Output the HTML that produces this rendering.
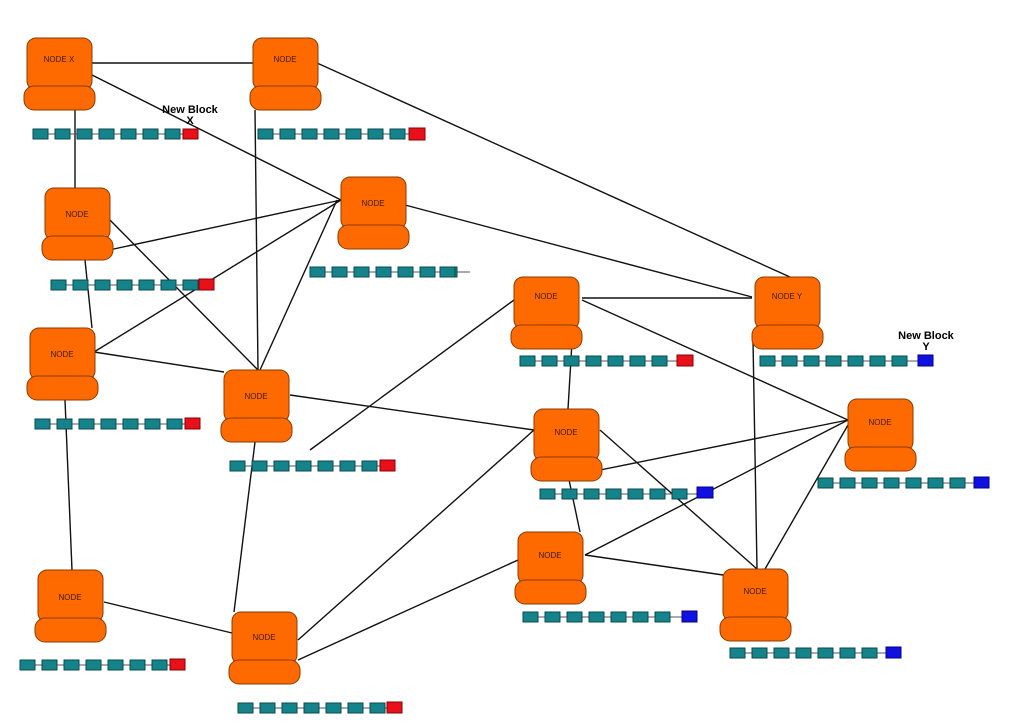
<!DOCTYPE html>
<html><head><meta charset="utf-8"><style>
body{margin:0;background:#fff}
svg{display:block}
text{font-family:"Liberation Sans",sans-serif}
</style></head><body>
<svg width="1024" height="724" viewBox="0 0 1024 724" xmlns="http://www.w3.org/2000/svg">
<defs>
<g id="nd">
<rect x="0" y="0" width="65" height="52" rx="9" fill="#ff6a00" stroke="#8a3a00" stroke-width="1"/>
<rect x="-3" y="48" width="71" height="24" rx="10" fill="#ff6a00" stroke="#8a3a00" stroke-width="1"/>
</g>
<g id="ch">
<line x1="0" y1="5" x2="160" y2="5" stroke="#555" stroke-width="1"/>
<rect x="0" y="0" width="15" height="10" fill="#15838a" stroke="#0a4a50"/>
<rect x="22" y="0" width="15" height="10" fill="#15838a" stroke="#0a4a50"/>
<rect x="44" y="0" width="15" height="10" fill="#15838a" stroke="#0a4a50"/>
<rect x="66" y="0" width="15" height="10" fill="#15838a" stroke="#0a4a50"/>
<rect x="88" y="0" width="15" height="10" fill="#15838a" stroke="#0a4a50"/>
<rect x="110" y="0" width="15" height="10" fill="#15838a" stroke="#0a4a50"/>
<rect x="132" y="0" width="15" height="10" fill="#15838a" stroke="#0a4a50"/>
</g>
</defs>
<g stroke="#111" stroke-width="1.4" fill="none">
<line x1="92" y1="63" x2="253" y2="63"/>
<line x1="92" y1="75" x2="341" y2="200"/>
<line x1="75" y1="110" x2="75" y2="188"/>
<line x1="317" y1="63" x2="790" y2="277"/>
<line x1="255" y1="110" x2="258" y2="370"/>
<line x1="109" y1="250" x2="341" y2="200"/>
<line x1="94" y1="352" x2="341" y2="200"/>
<line x1="260" y1="370" x2="337" y2="200"/>
<line x1="405" y1="205" x2="752" y2="297"/>
<line x1="105" y1="215" x2="258" y2="370"/>
<line x1="85" y1="260" x2="92" y2="328"/>
<line x1="94" y1="352" x2="224" y2="372"/>
<line x1="65" y1="400" x2="72" y2="570"/>
<line x1="290" y1="395" x2="534" y2="430"/>
<line x1="255" y1="442" x2="234" y2="612"/>
<line x1="310" y1="450" x2="514" y2="300"/>
<line x1="582" y1="298" x2="752" y2="298"/>
<line x1="582" y1="300" x2="848" y2="420"/>
<line x1="572" y1="342" x2="568" y2="409"/>
<line x1="600" y1="430" x2="757" y2="569"/>
<line x1="600" y1="470" x2="848" y2="420"/>
<line x1="568" y1="475" x2="580" y2="532"/>
<line x1="534" y1="430" x2="298" y2="640"/>
<line x1="518" y1="560" x2="298" y2="660"/>
<line x1="585" y1="555" x2="848" y2="420"/>
<line x1="585" y1="555" x2="723" y2="575"/>
<line x1="753" y1="340" x2="757" y2="569"/>
<line x1="848" y1="425" x2="765" y2="569"/>
<line x1="104" y1="602" x2="232" y2="633"/>
</g>
<g>
<use href="#nd" x="27" y="38"/><use href="#nd" x="253" y="38"/><use href="#nd" x="341" y="177"/>
<use href="#nd" x="45" y="188"/><use href="#nd" x="30" y="328"/><use href="#nd" x="224" y="370"/>
<use href="#nd" x="514" y="277"/><use href="#nd" x="755" y="277"/><use href="#nd" x="848" y="399"/>
<use href="#nd" x="534" y="409"/><use href="#nd" x="518" y="532"/><use href="#nd" x="723" y="569"/>
<use href="#nd" x="38" y="570"/><use href="#nd" x="232" y="612"/>
</g>
<g font-size="8" fill="#3a1a00" text-anchor="middle">
<text x="59" y="62">NODE X</text><text x="285" y="62">NODE</text><text x="373" y="206">NODE</text>
<text x="77" y="217">NODE</text><text x="62" y="357">NODE</text><text x="256" y="399">NODE</text>
<text x="546" y="299">NODE</text><text x="787" y="299">NODE Y</text><text x="880" y="425">NODE</text>
<text x="566" y="435">NODE</text><text x="550" y="558">NODE</text><text x="755" y="594">NODE</text>
<text x="70" y="600">NODE</text><text x="264" y="640">NODE</text>
</g>
<g>
<use href="#ch" x="33" y="129"/><rect x="183" y="129" width="15" height="10" fill="#e8101a" stroke="#800"/>
<use href="#ch" x="258" y="129"/><rect x="409" y="128" width="16" height="12" fill="#e8101a" stroke="#800"/>
<use href="#ch" x="310" y="267"/><rect x="440" y="267" width="15" height="10" fill="#15838a" stroke="#0a4a50"/>
<use href="#ch" x="51" y="280"/><rect x="199" y="279" width="15" height="11" fill="#e8101a" stroke="#800"/>
<use href="#ch" x="35" y="419"/><rect x="185" y="418" width="15" height="11" fill="#e8101a" stroke="#800"/>
<use href="#ch" x="230" y="461"/><rect x="380" y="460" width="15" height="11" fill="#e8101a" stroke="#800"/>
<use href="#ch" x="520" y="356"/><rect x="677" y="355" width="16" height="11" fill="#e8101a" stroke="#800"/>
<use href="#ch" x="760" y="356"/><rect x="918" y="355" width="15" height="11" fill="#1010e0" stroke="#008"/>
<use href="#ch" x="818" y="478"/><rect x="974" y="477" width="15" height="11" fill="#1010e0" stroke="#008"/>
<use href="#ch" x="540" y="489"/><rect x="697" y="487" width="16" height="11" fill="#1010e0" stroke="#008"/>
<use href="#ch" x="523" y="612"/><rect x="682" y="611" width="15" height="11" fill="#1010e0" stroke="#008"/>
<use href="#ch" x="730" y="648"/><rect x="886" y="647" width="15" height="11" fill="#1010e0" stroke="#008"/>
<use href="#ch" x="20" y="660"/><rect x="170" y="659" width="15" height="11" fill="#e8101a" stroke="#800"/>
<use href="#ch" x="238" y="703"/><rect x="387" y="702" width="15" height="11" fill="#e8101a" stroke="#800"/>
</g>
<g font-size="11" font-weight="bold" fill="#000" text-anchor="middle">
<text x="190" y="113">New Block</text><text x="190" y="124">X</text>
<text x="926" y="339">New Block</text><text x="926" y="350">Y</text>
</g>
</svg>
</body></html>
